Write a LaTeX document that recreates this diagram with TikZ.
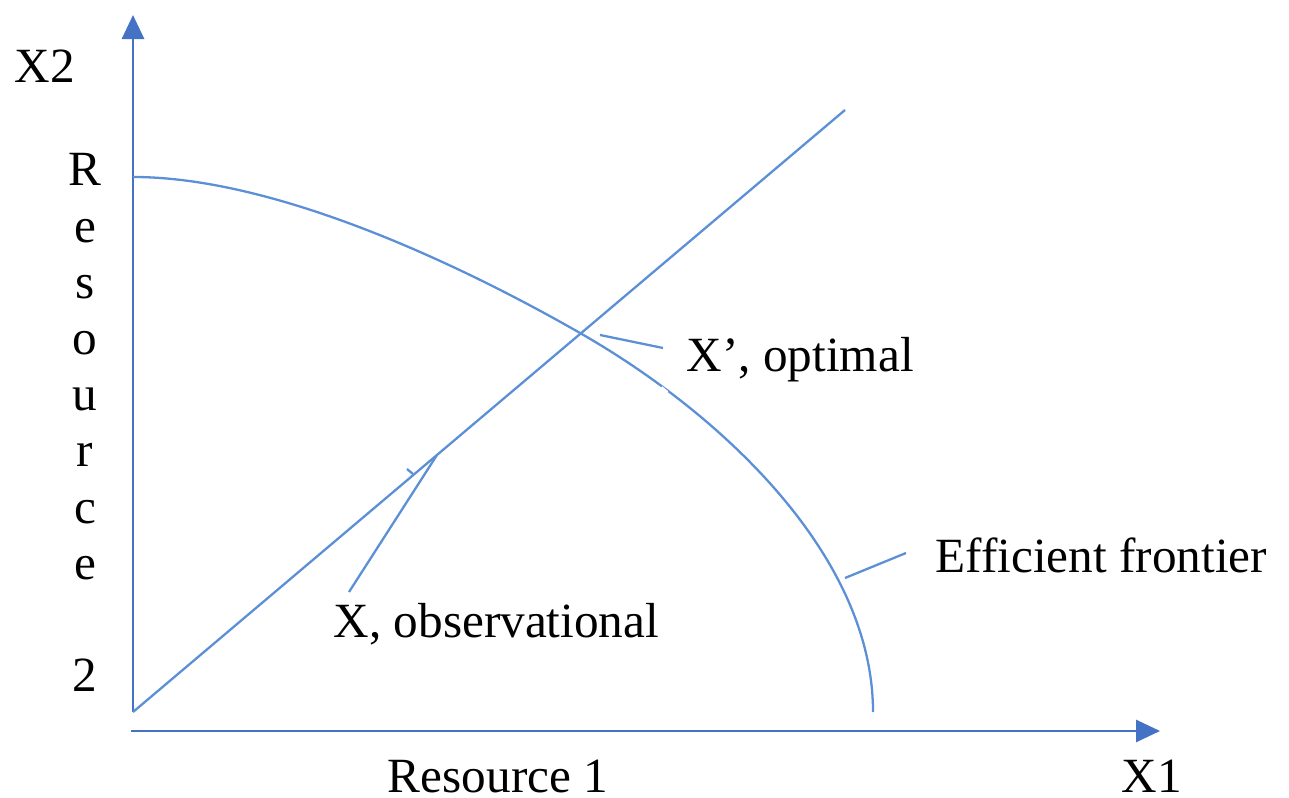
\documentclass[tikz,border=0pt]{standalone}
\usepackage{fontspec}
\setmainfont{Liberation Serif}
\usetikzlibrary{arrows.meta}
\definecolor{axisblue}{RGB}{68,114,196}
\definecolor{lineblue}{RGB}{91,143,214}

\begin{document}
\begin{tikzpicture}[x=0.01cm,y=-0.01cm,>={Triangle[width=0.22cm,length=0.24cm]}]
        \tikzstyle{txt}=[inner sep=0pt, font=\fontsize{14}{17}\selectfont]
        \tikzstyle{axis}=[axisblue, line width=0.8pt]
        \tikzstyle{curve}=[lineblue, line width=0.65pt]
        \useasboundingbox (0,0) rectangle (1289,798);

        % Axes
        \coordinate (O) at (133,712);
        \coordinate (ytip) at (133,15);
        \coordinate (xstart) at (131,731);
        \coordinate (xtip) at (1160,731);
        \draw[axis,->] (O) -- (ytip);
        \draw[axis,->] (xstart) -- (xtip);

        % Axis labels
        \node[txt, anchor=base] (x2) at (45,83) {X2};
        \foreach \ch/\k in {R/0,e/1,s/2,o/3,u/4,r/5,c/6,e/7,2/9}
            \node[txt, anchor=base] (res\k) at (85,186+56.2*\k) {\ch};
        \node[txt, anchor=base] (res1) at (498,792) {Resource 1};
        \node[txt, anchor=base] (x1) at (1152,792) {X1};

        % Efficient frontier
        \coordinate (ftop) at (133,177);
        \coordinate (xopt) at (580,333);
        \coordinate (fbot) at (873,712);
        \draw[curve] (ftop) .. controls (280,177) and (470,270) .. (xopt)
            .. controls (720,413) and (873,555) .. (fbot);
        \draw[white, line width=2pt] (660,389) -- (666,394);

        % Ray through the optimum
        \coordinate (rayend) at (845,110);
        \draw[curve] (O) -- (rayend);

        % Labels and leaders
        \node[txt, anchor=base west] (optlbl) at (686,372) {X’, optimal};
        \node[txt, anchor=base west] (obslbl) at (333,637) {X, observational};
        \node[txt, anchor=base west] (frontlbl) at (935,572) {Efficient frontier};

        \coordinate (optfoot) at (600,335);
        \coordinate (optend) at (663,348);
        \draw[curve] (optfoot) -- (optend);

        \coordinate (obsfoot) at (437,455);
        \coordinate (obsend) at (349,592);
        \coordinate (tick) at (407,469);
        \coordinate (tickfoot) at (413,474);
        \draw[curve] (obsend) -- (obsfoot);
        \draw[curve] (tick) -- (tickfoot);

        \coordinate (frontfoot) at (845,578);
        \coordinate (frontend) at (906,553);
        \draw[curve] (frontfoot) -- (frontend);
    \end{tikzpicture}
\end{document}
